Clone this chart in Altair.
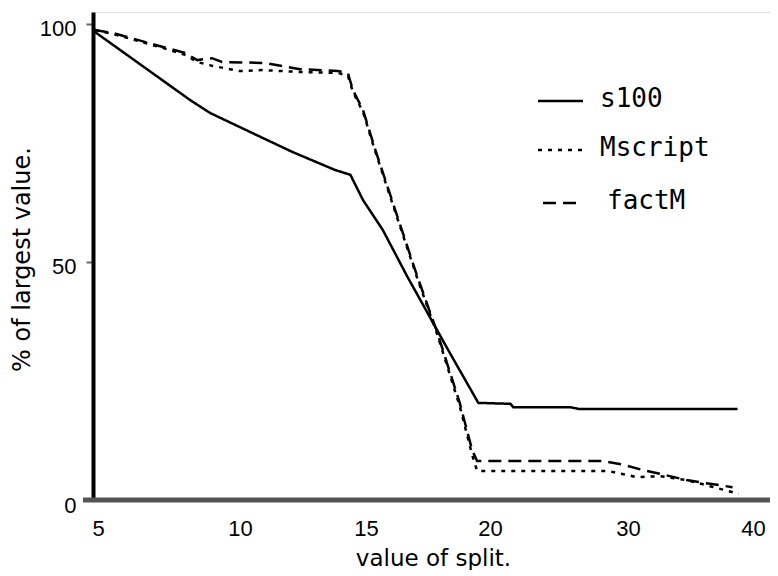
import altair as alt
import pandas as pd

# ---- data ----
s100_x = [5, 8.35, 9.05, 10.6, 12.2, 13.9, 14.5, 15.0, 15.8, 16.8, 18.5, 19.65, 21.7, 21.9, 26.0, 26.7, 39.0]
s100_y = [98.3, 84.0, 81.3, 77.1, 73.1, 69.3, 68.3, 63.0, 56.7, 46.8, 30.9, 20.4, 20.2, 19.5, 19.5, 19.1, 19.1]

mscript_x = [5, 5.63, 7.36, 8.17, 8.6, 9.12, 10.1, 11.0, 12.5, 14.0, 14.4, 14.6, 15.0, 15.5, 16.3, 17.2,
             18.0, 18.9, 19.4, 19.6, 28.8, 29.4, 30.96, 32.8, 34.9, 36.8, 39.1]
mscript_y = [98.7, 97.9, 95.0, 93.5, 92.0, 91.2, 90.1, 90.3, 89.9, 89.7, 89.1, 85.7, 81.5, 73.1, 60.5, 46.4,
             34.7, 19.7, 9.5, 6.1, 6.1, 5.7, 4.8, 5.0, 4.2, 2.9, 1.3]

factm_x = [5, 5.63, 7.36, 8.17, 8.6, 9.12, 9.47, 11.1, 12.5, 14.0, 14.4, 14.6, 15.0, 15.5, 16.3, 17.2,
           18.0, 18.9, 19.4, 19.6, 19.9, 28.4, 29.9, 31.4, 32.8, 34.9, 36.8, 38.6]
factm_y = [98.7, 98.1, 95.2, 93.9, 92.4, 92.8, 92.0, 91.8, 90.5, 90.1, 89.7, 86.1, 81.9, 73.5, 60.9, 46.8,
           35.1, 20.4, 10.5, 8.2, 8.2, 8.2, 7.4, 6.3, 5.5, 4.2, 3.4, 2.7]

series_names = ["s100", "Mscript", "factM"]
x_ticks = [5, 10, 15, 20, 30, 40]
y_ticks = [0, 50, 100]

rows = []
for name, xs, ys in [("s100", s100_x, s100_y), ("Mscript", mscript_x, mscript_y), ("factM", factm_x, factm_y)]:
    for i, (a, b) in enumerate(zip(xs, ys)):
        rows.append({"series": name, "split": a, "pct": b, "order": i})
df = pd.DataFrame(rows)

dash_range = [[1, 0], [4, 6], [13, 7]]

W, H = 677, 488

xscale = alt.Scale(domain=x_ticks, range=[2, 144, 270, 394, 532, 657])
yscale = alt.Scale(domain=[0, 102.5], nice=False, zero=False)

lines = alt.Chart(df).mark_line(color="black", strokeWidth=2.5, clip=False).encode(
    x=alt.X("split:Q", scale=xscale,
            axis=alt.Axis(values=x_ticks, title="value of split.", grid=False, ticks=False, domain=False,
                          labelFont="Liberation Sans", labelFontSize=22, labelColor="black",
                          labelPadding=18, labelBaseline="top", labelOffset=3, labelFlush=False,
                          titleFont="DejaVu Sans", titleFontSize=23, titleFontWeight="normal",
                          titleColor="black", titleX=340, titleY=58, titleBaseline="middle")),
    y=alt.Y("pct:Q", scale=yscale,
            axis=alt.Axis(values=y_ticks, title="% of largest value.", grid=False,
                          domainColor="black", domainWidth=4, tickColor="#666", tickWidth=2, tickSize=7,
                          labelFont="Liberation Sans", labelFontSize=22, labelColor="black",
                          labelPadding=10, labelOffset=5, labelBaseline="middle",
                          titleFont="DejaVu Sans", titleFontSize=24, titleFontWeight="normal",
                          titleColor="black", titleX=-71, titleY=247, titleBaseline="middle",
                          titleAngle=270, titleAlign="center")),
    detail="series:N",
    order="order:Q",
    strokeDash=alt.StrokeDash("series:N", scale=alt.Scale(domain=series_names, range=dash_range), legend=None),
)

one = pd.DataFrame({"k": [0]})
xaxis_line = alt.Chart(one).mark_rule(color="#555", strokeWidth=5).encode(
    x=alt.value(-10), x2=alt.value(W), y=alt.value(H)
)

legend_layers = []
legend_rows = [("s100", 89, 445, 490, 507), ("Mscript", 138, 445, 494, 507), ("factM", 191, 450, 487, 514)]
for (name, ly, lx1, lx2, tx), dash in zip(legend_rows, dash_range):
    legend_layers.append(alt.Chart(one).mark_rule(color="black", strokeWidth=2.5, strokeDash=dash).encode(
        x=alt.value(lx1), x2=alt.value(lx2), y=alt.value(ly)))
    legend_layers.append(alt.Chart(one).mark_text(text=name, font="DejaVu Sans Mono", fontSize=26,
                                                  align="left", baseline="middle", color="black").encode(
        x=alt.value(tx), y=alt.value(ly - 2)))

chart = alt.layer(xaxis_line, lines, *legend_layers).properties(
    width=W, height=H,
    autosize=alt.AutoSizeParams(type="none"),
    padding={"left": 85, "top": 4, "right": 0, "bottom": 70},
).configure_view(stroke=None).configure(background="white")

chart.save("out.html", embed_options={"renderer": "svg", "actions": False})
